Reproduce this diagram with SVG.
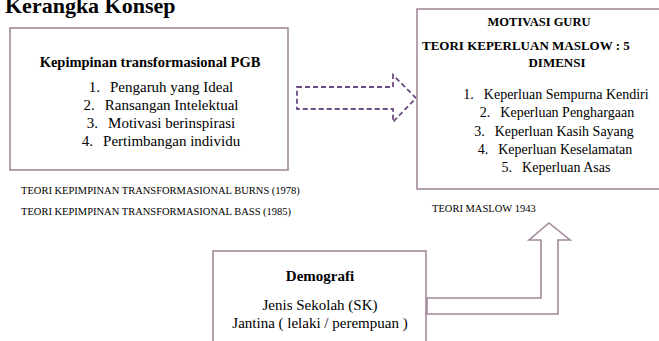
<svg xmlns="http://www.w3.org/2000/svg" width="659" height="341" viewBox="0 0 659 341">
  <style>
    .box { fill: #ffffff; stroke: #a3899b; stroke-width: 1.6; }
    .dash { fill: none; stroke: #6a4c80; stroke-width: 1.8; stroke-dasharray: 5 3; stroke-linejoin: miter; }
    .block { fill: #ffffff; stroke: #a3899b; stroke-width: 1.6; stroke-linejoin: miter; }
  </style>

  <rect width="659" height="341" fill="#ffffff"/>

  <g font-family="Liberation Serif" fill="#000000">
    <!-- page heading, partly above the top edge -->
    <text x="5" y="13" font-size="22" font-weight="bold">Kerangka Konsep</text>

    <!-- connectors -->
    <g id="connectors">
      <!-- dashed block arrow: leadership -> motivation -->
      <path class="dash" d="M297,87 H393 V75 L416,98 L393,122 V109 H297 Z"/>
      <!-- elbow block arrow: demographics -> Maslow -->
      <path class="block" d="M427,298 H541 V240 H529 L549,223 L570,240 H558 V314 H427 Z"/>
    </g>

    <g id="node-kepimpinan">
      <rect class="box" x="10" y="28" width="278" height="142"/>
      <text x="150" y="67" font-size="14.5" font-weight="bold" text-anchor="middle">Kepimpinan transformasional PGB</text>
      <g font-size="15" text-anchor="middle">
        <text x="161" y="92">1.<tspan dx="10">Pengaruh yang Ideal</tspan></text>
        <text x="161" y="110">2.<tspan dx="10">Ransangan Intelektual</tspan></text>
        <text x="161" y="128">3.<tspan dx="10">Motivasi berinspirasi</tspan></text>
        <text x="161" y="146">4.<tspan dx="10">Pertimbangan individu</tspan></text>
      </g>
    </g>

    <g id="label-teori" font-size="10.5">
      <text x="21" y="194">TEORI KEPIMPINAN TRANSFORMASIONAL BURNS (1978)</text>
      <text x="21" y="215">TEORI KEPIMPINAN TRANSFORMASIONAL BASS (1985)</text>
    </g>

    <g id="node-motivasi">
      <rect class="box" x="417" y="9" width="260" height="180"/>
      <g font-weight="bold">
        <text x="539" y="26" font-size="12.5" text-anchor="middle">MOTIVASI GURU</text>
        <text x="422" y="50" font-size="13">TEORI KEPERLUAN MASLOW : 5</text>
        <text x="557" y="67" font-size="13" text-anchor="middle">DIMENSI</text>
      </g>
      <g font-size="14" text-anchor="middle">
        <text x="556" y="99">1.<tspan dx="10">Keperluan Sempurna Kendiri</tspan></text>
        <text x="557" y="117">2.<tspan dx="10">Keperluan Penghargaan</tspan></text>
        <text x="554" y="136">3.<tspan dx="10">Keperluan Kasih Sayang</tspan></text>
        <text x="555" y="154">4.<tspan dx="10">Keperluan Keselamatan</tspan></text>
        <text x="556" y="172">5.<tspan dx="10">Keperluan Asas</tspan></text>
      </g>
    </g>

    <g id="label-maslow">
      <text x="432" y="212" font-size="10.5">TEORI MASLOW 1943</text>
    </g>

    <g id="node-demografi">
      <rect class="box" x="213" y="251" width="213" height="110"/>
      <g font-size="15" text-anchor="middle">
        <text x="320" y="281" font-weight="bold">Demografi</text>
        <text x="320" y="310">Jenis Sekolah (SK)</text>
        <text x="320" y="328">Jantina ( lelaki / perempuan )</text>
      </g>
    </g>
  </g>
</svg>
